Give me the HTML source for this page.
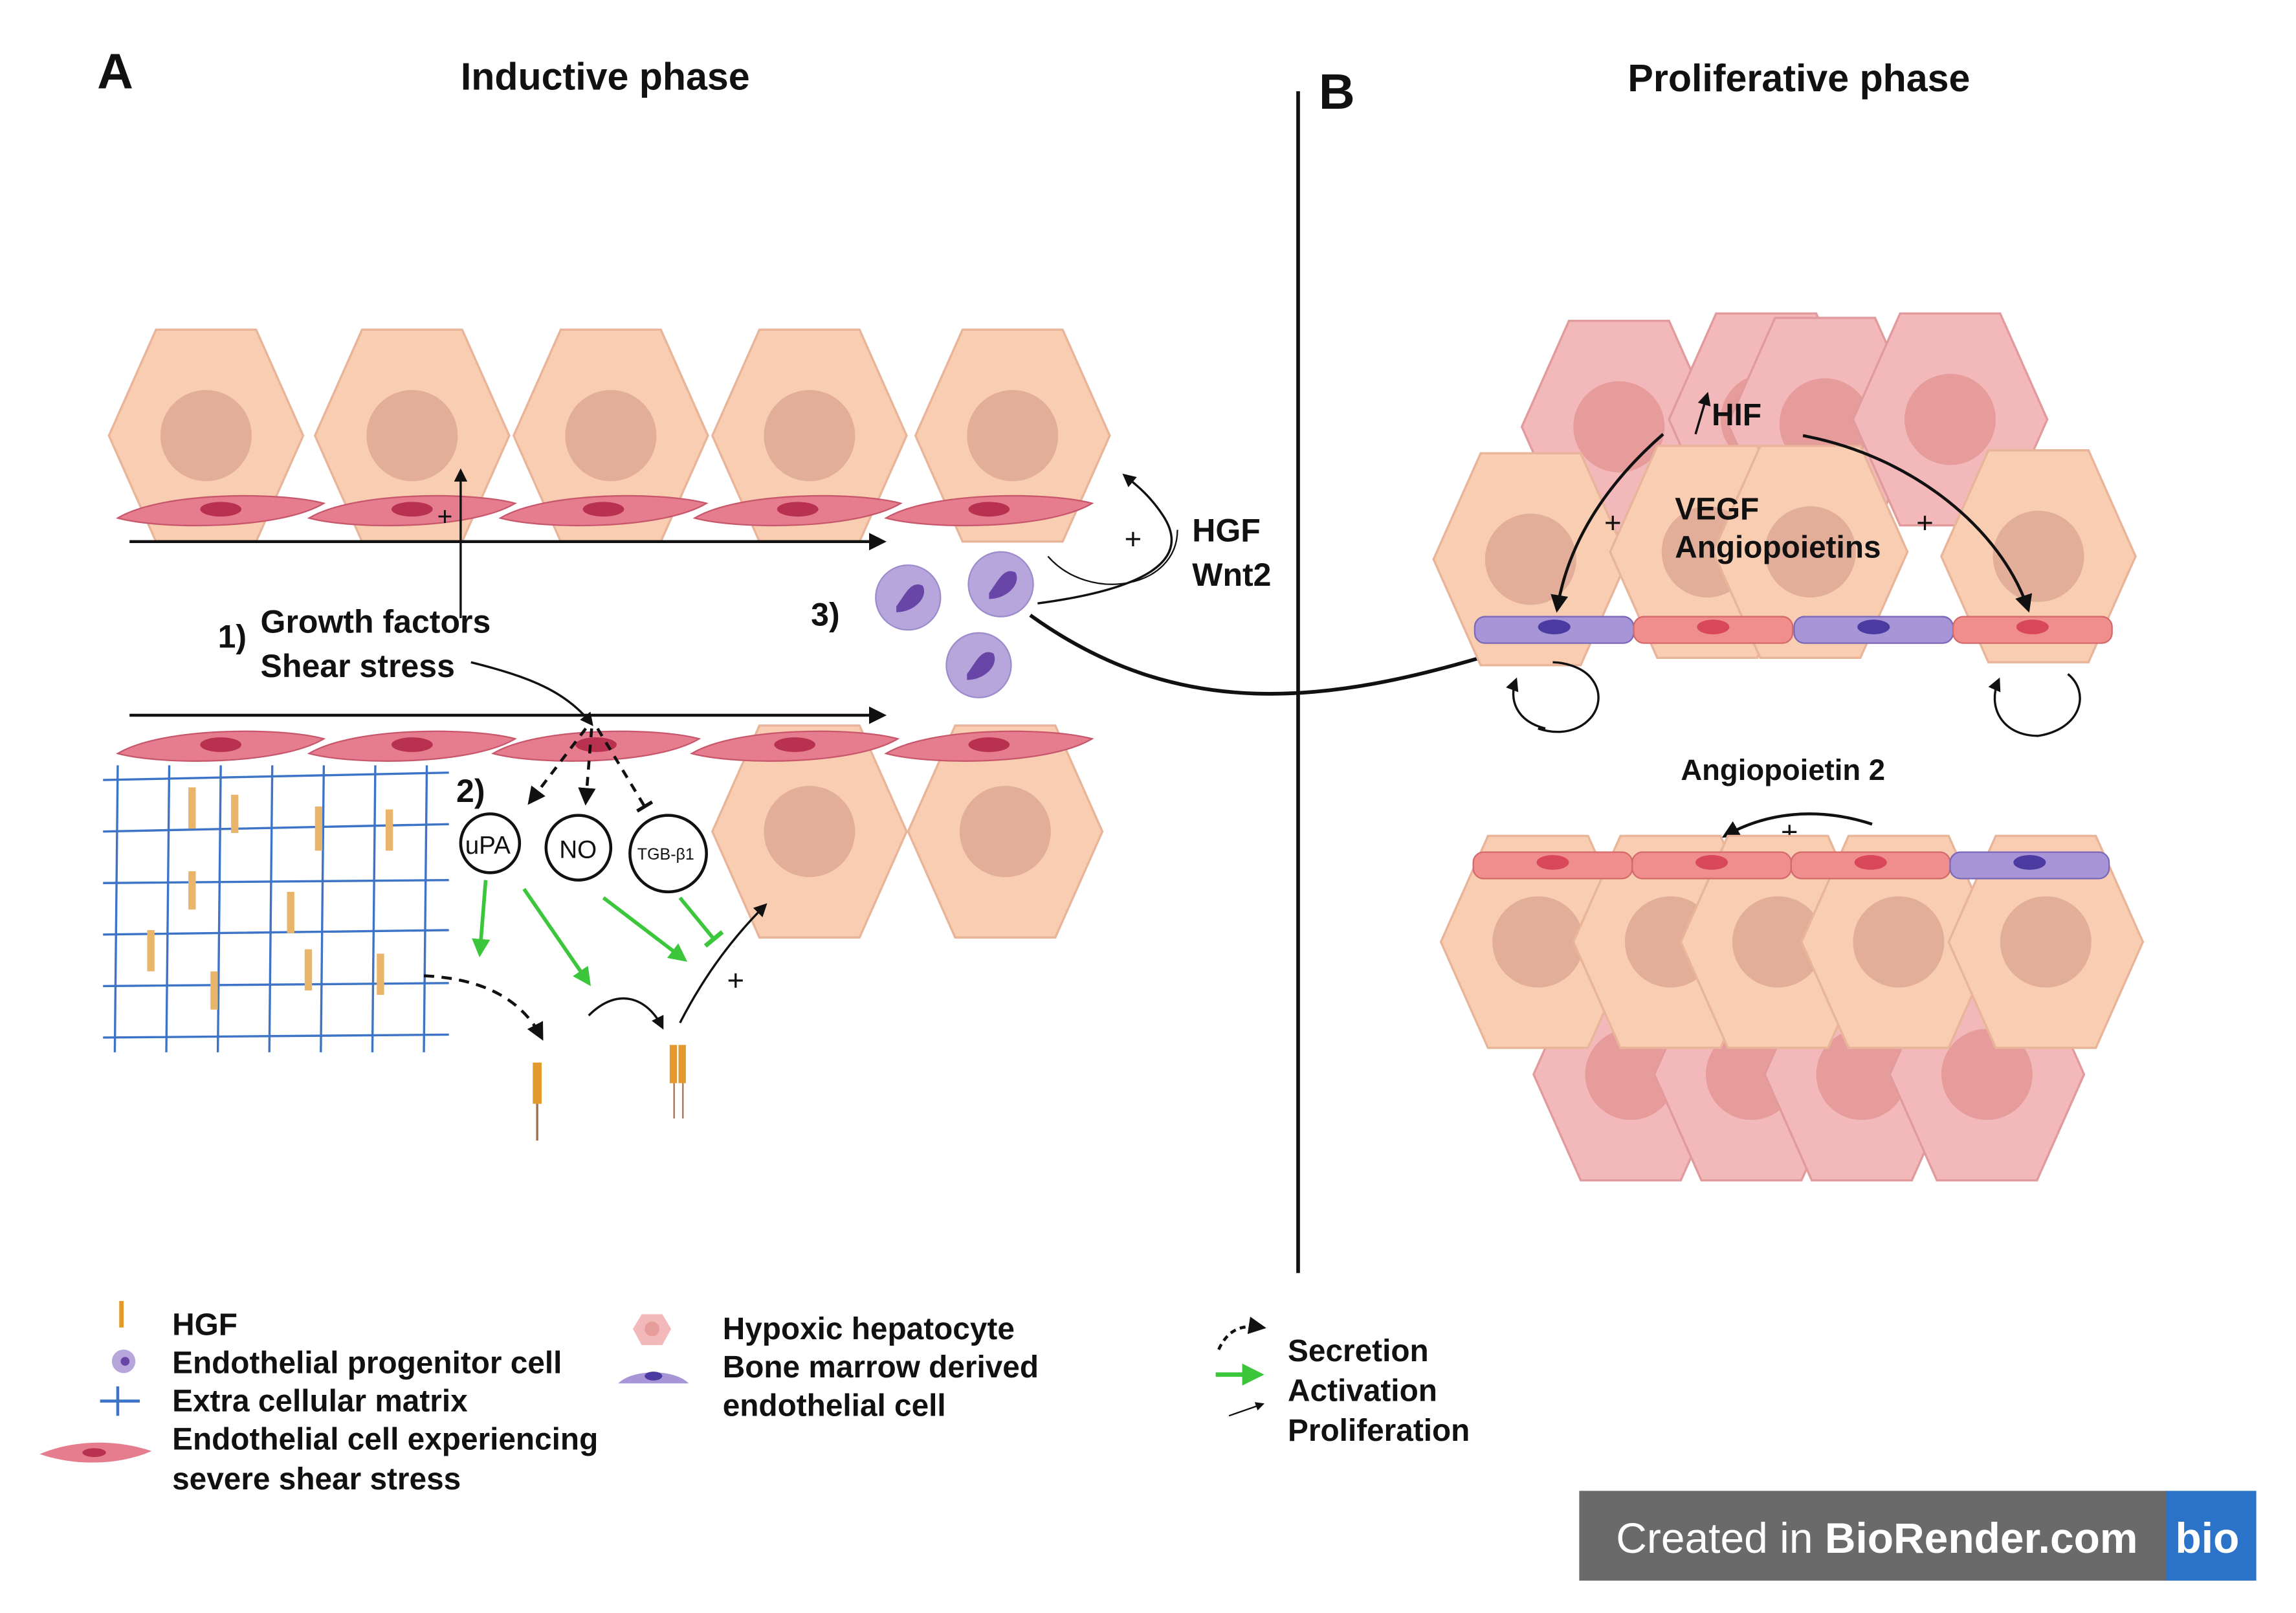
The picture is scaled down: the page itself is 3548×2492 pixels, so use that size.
<!DOCTYPE html>
<html><head><meta charset="utf-8"><style>
html,body{margin:0;padding:0;background:#fff}
svg{display:block}
text{font-family:"Liberation Sans","DejaVu Sans",sans-serif;fill:#111}
</style></head><body>
<svg width="3548" height="2492" viewBox="0 0 1560 1096" preserveAspectRatio="none" xmlns="http://www.w3.org/2000/svg">
<defs>
<marker id="ah" viewBox="0 0 10 10" refX="8" refY="5" markerWidth="6" markerHeight="6" orient="auto"><path d="M0,0L10,5L0,10z" fill="#111"/></marker>
<marker id="ag" viewBox="0 0 10 10" refX="8" refY="5" markerWidth="5" markerHeight="5" orient="auto"><path d="M0,0L10,5L0,10z" fill="#3cc63c"/></marker>
<marker id="tb" viewBox="0 0 10 10" refX="5" refY="5" markerWidth="6" markerHeight="6" orient="auto"><path d="M5,0L5,10" stroke="#3cc63c" stroke-width="2"/></marker>
<marker id="tbk" viewBox="0 0 10 10" refX="5" refY="5" markerWidth="6" markerHeight="6" orient="auto"><path d="M5,0L5,10" stroke="#111" stroke-width="2"/></marker>
<g id="hep"><polygon points="-66,0 -34,-72 34,-72 66,0 34,72 -34,72" fill="#f8cdb1" stroke="#e8b49a" stroke-width="1.5"/><circle cx="0" cy="0" r="31" fill="#e2ae9a"/></g>
<g id="hyp"><polygon points="-66,0 -34,-72 34,-72 66,0 34,72 -34,72" fill="#f3b9ba" stroke="#e19b9c" stroke-width="1.5"/><circle cx="0" cy="0" r="31" fill="#e79c9c"/></g>
<g id="endo"><path d="M-70,6 C-40,-12 40,-12 70,-4 C40,14 -40,14 -70,6z" fill="#e57d8f" stroke="#c9576c" stroke-width="1"/><ellipse cx="0" cy="0" rx="14" ry="5" fill="#b8324f"/></g>
<g id="flat"><rect x="-54" y="-9" width="108" height="18" rx="7" fill="#f08e8e" stroke="#d46a6a"/><ellipse cx="0" cy="-2" rx="11" ry="5" fill="#d9475a"/></g>
<g id="flatp"><rect x="-54" y="-9" width="108" height="18" rx="7" fill="#a795d8" stroke="#7b68b8"/><ellipse cx="0" cy="-2" rx="11" ry="5" fill="#4b3aa0"/></g>
<g id="epc"><circle r="22" fill="#b7a6dc" stroke="#9d8ccc"/><path d="M-8,6 C-2,-2 2,-12 10,-8 C14,0 4,10 -8,10z" fill="#6a45a8"/></g>
</defs>
<text x="66" y="60" font-size="34" font-weight="bold">A</text>
<text x="313" y="61" font-size="26" font-weight="bold">Inductive phase</text>
<text x="896" y="74" font-size="34" font-weight="bold">B</text>
<text x="1106" y="62" font-size="26" font-weight="bold">Proliferative phase</text>
<line x1="882" y1="62" x2="882" y2="865" stroke="#111" stroke-width="2.5"/>

<use href="#hep" x="140" y="296"/><use href="#hep" x="280" y="296"/><use href="#hep" x="415" y="296"/><use href="#hep" x="550" y="296"/><use href="#hep" x="688" y="296"/>
<use href="#endo" x="150" y="346"/><use href="#endo" x="280" y="346"/><use href="#endo" x="410" y="346"/><use href="#endo" x="542" y="346"/><use href="#endo" x="672" y="346"/>
<line x1="88" y1="368" x2="600" y2="368" stroke="#111" stroke-width="2" marker-end="url(#ah)"/>
<path d="M313,420 L313,320" stroke="#111" stroke-width="1.5" marker-end="url(#ah)"/>
<text x="297" y="357" font-size="18">+</text>
<text x="148" y="440" font-size="22" font-weight="bold">1)</text>
<text x="177" y="430" font-size="22" font-weight="bold">Growth factors</text>
<text x="177" y="460" font-size="22" font-weight="bold">Shear stress</text>
<path d="M320,450 C360,460 385,470 402,492" stroke="#111" fill="none" stroke-width="1.5" marker-end="url(#ah)"/>

<use href="#hep" x="550" y="565"/><use href="#hep" x="683" y="565"/>
<use href="#endo" x="150" y="506"/><use href="#endo" x="280" y="506"/><use href="#endo" x="405" y="506"/><use href="#endo" x="540" y="506"/><use href="#endo" x="672" y="506"/>
<line x1="88" y1="486" x2="600" y2="486" stroke="#111" stroke-width="2" marker-end="url(#ah)"/>
<g stroke="#3d74c8" stroke-width="1.5" fill="none">
<path d="M70,530 L305,525 M70,565 L305,560 M70,600 L305,598 M70,635 L305,632 M70,670 L305,668 M70,705 L305,703"/>
<path d="M80,520 L78,715 M115,520 L113,715 M150,520 L148,715 M185,520 L183,715 M220,520 L218,715 M255,520 L253,715 M290,520 L288,715"/>
</g>
<g fill="#e8b56a"><rect x="128" y="535" width="5" height="28"/><rect x="157" y="540" width="5" height="26"/><rect x="214" y="548" width="5" height="30"/><rect x="262" y="550" width="5" height="28"/><rect x="128" y="592" width="5" height="26"/><rect x="195" y="606" width="5" height="28"/><rect x="100" y="632" width="5" height="28"/><rect x="143" y="660" width="5" height="26"/><rect x="207" y="645" width="5" height="28"/><rect x="256" y="648" width="5" height="28"/></g>
<text x="310" y="545" font-size="22" font-weight="bold">2)</text>
<path d="M398,495 L360,545" stroke="#111" stroke-width="2" stroke-dasharray="6,5" fill="none" marker-end="url(#ah)"/>
<path d="M402,495 L398,545" stroke="#111" stroke-width="2" stroke-dasharray="6,5" fill="none" marker-end="url(#ah)"/>
<path d="M406,495 L438,548" stroke="#111" stroke-width="2" stroke-dasharray="6,5" fill="none" marker-end="url(#tbk)"/>
<circle cx="333" cy="573" r="20" fill="#fff" stroke="#111" stroke-width="2"/><text x="316" y="580" font-size="17">uPA</text>
<circle cx="393" cy="576" r="22" fill="#fff" stroke="#111" stroke-width="2"/><text x="380" y="583" font-size="17">NO</text>
<circle cx="454" cy="580" r="26" fill="#fff" stroke="#111" stroke-width="2"/><text x="433" y="584" font-size="11">TGB-β1</text>
<g stroke="#3cc63c" stroke-width="2.5" fill="none"><path d="M330,598 L326,648" marker-end="url(#ag)"/><path d="M356,604 L400,668" marker-end="url(#ag)"/><path d="M410,610 L465,652" marker-end="url(#ag)"/><path d="M462,610 L485,638" marker-end="url(#tb)"/></g>
<path d="M288,663 C330,665 355,680 368,705" stroke="#111" stroke-width="2" stroke-dasharray="7,5" fill="none" marker-end="url(#ah)"/>
<path d="M400,690 C420,670 440,678 450,698" stroke="#111" stroke-width="1.5" fill="none" marker-end="url(#ah)"/>
<path d="M462,695 C480,660 500,635 520,615" stroke="#111" stroke-width="1.5" fill="none" marker-end="url(#ah)"/>
<text x="494" y="673" font-size="20">+</text>
<rect x="362" y="722" width="6" height="28" fill="#e39a2a"/><line x1="365" y1="750" x2="365" y2="775" stroke="#a07050" stroke-width="1.5"/>
<rect x="455" y="710" width="5" height="26" fill="#e39a2a"/><rect x="461" y="710" width="5" height="26" fill="#e39a2a"/><line x1="458" y1="736" x2="458" y2="760" stroke="#a07050"/><line x1="464" y1="736" x2="464" y2="760" stroke="#a07050"/>

<text x="551" y="425" font-size="22" font-weight="bold">3)</text>
<use href="#epc" x="617" y="406"/><use href="#epc" x="680" y="397"/><use href="#epc" x="665" y="452"/>
<path d="M705,410 C780,400 810,380 790,350 C780,335 770,328 764,323" stroke="#111" stroke-width="1.5" fill="none" marker-end="url(#ah)"/>
<path d="M712,378 C740,410 800,400 800,360" stroke="#111" stroke-width="1" fill="none"/>
<text x="764" y="373" font-size="20">+</text>
<text x="810" y="368" font-size="22" font-weight="bold">HGF</text>
<text x="810" y="398" font-size="22" font-weight="bold">Wnt2</text>
<path d="M700,418 C800,490 900,480 1022,442" stroke="#111" stroke-width="2.5" fill="none" marker-end="url(#ah)"/>

<use href="#hyp" x="1100" y="290"/><use href="#hyp" x="1200" y="285"/><use href="#hyp" x="1240" y="288"/><use href="#hyp" x="1325" y="285"/>
<use href="#hep" x="1040" y="380"/><use href="#hep" x="1160" y="375"/><use href="#hep" x="1230" y="375"/><use href="#hep" x="1385" y="378"/>
<use href="#flatp" x="1056" y="428"/><use href="#flat" x="1164" y="428"/><use href="#flatp" x="1273" y="428"/><use href="#flat" x="1381" y="428"/>
<text x="1163" y="289" font-size="21" font-weight="bold">HIF</text>
<path d="M1152,295 L1160,268" stroke="#111" stroke-width="1.5" marker-end="url(#ah)"/>
<path d="M1130,295 C1090,330 1065,370 1058,414" stroke="#111" stroke-width="2" fill="none" marker-end="url(#ah)"/>
<path d="M1225,296 C1300,310 1360,360 1378,414" stroke="#111" stroke-width="2" fill="none" marker-end="url(#ah)"/>
<text x="1090" y="362" font-size="20">+</text><text x="1302" y="362" font-size="20">+</text>
<text x="1138" y="353" font-size="21" font-weight="bold">VEGF</text>
<text x="1138" y="379" font-size="21" font-weight="bold">Angiopoietins</text>
<path d="M1045,495 C1075,505 1095,480 1082,462 C1075,452 1060,450 1055,450" stroke="#111" stroke-width="1.5" fill="none"/>
<path d="M1050,495 C1030,490 1025,475 1030,462" stroke="#111" stroke-width="1.5" fill="none" marker-end="url(#ah)"/>
<path d="M1385,500 C1415,495 1420,470 1405,458" stroke="#111" stroke-width="1.5" fill="none"/>
<path d="M1385,500 C1360,500 1350,480 1358,462" stroke="#111" stroke-width="1.5" fill="none" marker-end="url(#ah)"/>
<text x="1142" y="530" font-size="20" font-weight="bold">Angiopoietin 2</text>
<path d="M1272,560 C1235,548 1200,552 1172,568" stroke="#111" stroke-width="2" fill="none" marker-end="url(#ah)"/>
<text x="1210" y="572" font-size="20">+</text>
<use href="#hyp" x="1108" y="730"/><use href="#hyp" x="1190" y="730"/><use href="#hyp" x="1265" y="730"/><use href="#hyp" x="1350" y="730"/>
<use href="#hep" x="1045" y="640"/><use href="#hep" x="1135" y="640"/><use href="#hep" x="1208" y="640"/><use href="#hep" x="1290" y="640"/><use href="#hep" x="1390" y="640"/>
<use href="#flat" x="1055" y="588"/><use href="#flat" x="1163" y="588"/><use href="#flat" x="1271" y="588"/><use href="#flatp" x="1379" y="588"/>

<rect x="81" y="884" width="3" height="18" fill="#e39a2a"/>
<text x="117" y="907" font-size="21" font-weight="bold">HGF</text>
<circle cx="84" cy="925" r="8" fill="#b7a6dc"/><circle cx="85" cy="925" r="3" fill="#6a45a8"/>
<text x="117" y="933" font-size="21" font-weight="bold">Endothelial progenitor cell</text>
<path d="M68,952 L95,952 M80,942 L80,962" stroke="#3d74c8" stroke-width="2"/>
<text x="117" y="959" font-size="21" font-weight="bold">Extra cellular matrix</text>
<path d="M27,988 C50,978 80,978 103,986 C80,996 50,996 27,988z" fill="#e57d8f"/>
<ellipse cx="64" cy="987" rx="8" ry="3" fill="#b8324f"/>
<text x="117" y="985" font-size="21" font-weight="bold">Endothelial cell experiencing</text>
<text x="117" y="1012" font-size="21" font-weight="bold">severe shear stress</text>
<polygon points="430,903 436,893 450,893 456,903 450,914 436,914" fill="#f3b9ba"/><circle cx="443" cy="903" r="5" fill="#e79c9c"/>
<path d="M420,940 C430,930 458,930 468,940z" fill="#a795d8"/><ellipse cx="444" cy="935" rx="6" ry="3" fill="#4b3aa0"/>
<text x="491" y="910" font-size="21" font-weight="bold">Hypoxic hepatocyte</text>
<text x="491" y="936" font-size="21" font-weight="bold">Bone marrow derived</text>
<text x="491" y="962" font-size="21" font-weight="bold">endothelial cell</text>
<path d="M828,917 C835,902 845,900 858,902" stroke="#111" stroke-width="2" stroke-dasharray="4,3" fill="none" marker-end="url(#ah)"/>
<line x1="826" y1="934" x2="856" y2="934" stroke="#3cc63c" stroke-width="3" marker-end="url(#ag)"/>
<path d="M835,962 L858,954" stroke="#111" stroke-width="1" marker-end="url(#ah)"/>
<text x="875" y="925" font-size="21" font-weight="bold">Secretion</text>
<text x="875" y="952" font-size="21" font-weight="bold">Activation</text>
<text x="875" y="979" font-size="21" font-weight="bold">Proliferation</text>
<rect x="1073" y="1013" width="400" height="61" fill="#6a6a6a"/>
<rect x="1472" y="1013" width="61" height="61" fill="#2b73c9"/>
<text x="1098" y="1055" font-size="29" style="fill:#fff">Created in <tspan font-weight="bold" style="fill:#fff">BioRender.com</tspan></text>
<text x="1478" y="1055" font-size="29" font-weight="bold" style="fill:#fff">bio</text>
</svg>
</body></html>
